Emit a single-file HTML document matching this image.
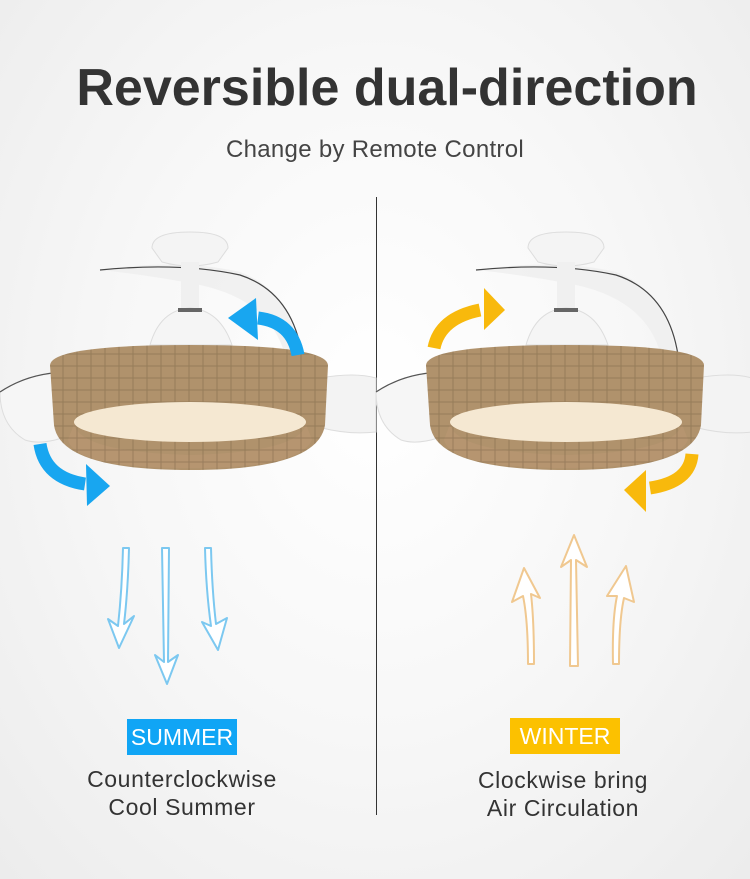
<!DOCTYPE html>
<html><head><meta charset="utf-8"><style>
html,body{margin:0;padding:0}
body{width:750px;height:879px;overflow:hidden;position:relative;font-family:"Liberation Sans",sans-serif;background:radial-gradient(ellipse at 50% 45%,#ffffff 0%,#f7f7f7 50%,#ececec 100%)}
.t{position:absolute;left:0;width:750px;text-align:center}
</style></head><body>
<div class="t" style="top:58px;left:12px;font-size:52px;font-weight:bold;color:#333;letter-spacing:0px">Reversible dual-direction</div>
<div class="t" style="top:136px;font-size:24px;color:#444;letter-spacing:0.3px">Change by Remote Control</div>
<div style="position:absolute;left:376px;top:197px;width:1px;height:618px;background:#333"></div>
<svg width="750" height="879" style="position:absolute;left:0;top:0">
<defs>
<pattern id="weave" width="14" height="12" patternUnits="userSpaceOnUse"><path d="M0,6H14M7,0V12" stroke="#6e5a40" stroke-width="1"/></pattern>
<g id="fan">
<path d="M0,392 Q30,372 70,372 L62,438 Q40,445 25,440 Q0,425 0,392Z" fill="#f6f6f6" stroke="#ddd"/>
<path d="M0,392 Q30,372 70,372" fill="none" stroke="#555" stroke-width="1.2"/>
<path d="M320,378 Q355,372 376,378 L376,432 Q350,435 322,428Z" fill="#f3f3f3" stroke="#ddd"/>
<path d="M100,270 Q180,258 240,272 Q290,290 300,355 L285,355 Q270,300 200,285 Q150,275 100,270Z" fill="#eeeeee" opacity="0.85"/>
<path d="M100,270 Q180,262 240,275 Q292,292 302,355" fill="none" stroke="#444" stroke-width="1.2"/>
<path d="M152,248 Q152,232 190,232 Q228,232 228,248 L218,262 Q190,270 162,262Z" fill="#f4f4f4" stroke="#ddd"/>
<rect x="181" y="262" width="18" height="50" fill="#f0f0f0"/>
<path d="M150,345 Q160,310 190,308 Q220,310 232,345Z" fill="#f5f5f5" stroke="#ddd"/>
<rect x="178" y="308" width="24" height="4" fill="#666"/>
<path d="M50,365 Q52,345 190,345 Q326,345 328,365 L325,425 Q318,470 190,470 Q60,470 54,425Z" fill="#b0926c"/>
<path d="M50,365 Q52,345 190,345 Q326,345 328,365 L325,425 Q318,470 190,470 Q60,470 54,425Z" fill="url(#weave)" opacity="0.4"/>
<ellipse cx="190" cy="422" rx="116" ry="20" fill="#f5e8d2"/>
<path d="M74,424 Q80,452 190,455 Q300,452 306,424 L312,440 Q300,468 190,468 Q75,468 68,440Z" fill="#b69570"/>
<path d="M74,424 Q80,452 190,455 Q300,452 306,424 L312,440 Q300,468 190,468 Q75,468 68,440Z" fill="url(#weave)" opacity="0.4"/>
</g>
</defs>
<use href="#fan"/>
<use href="#fan" x="376"/>
<path d="M298,355 Q292,322 258,318" fill="none" stroke="#18a6f0" stroke-width="13"/>
<polygon points="228,318 256,298 258,340" fill="#18a6f0"/>
<path d="M40,444 Q45,478 85,484" fill="none" stroke="#18a6f0" stroke-width="13"/>
<polygon points="110,486 86,464 87,506" fill="#18a6f0"/>
<path d="M434,348 Q440,318 480,310" fill="none" stroke="#f8b90c" stroke-width="13"/>
<polygon points="505,310 484,288 484,330" fill="#f8b90c"/>
<path d="M692,454 Q690,482 650,488" fill="none" stroke="#f8b90c" stroke-width="13"/>
<polygon points="624,490 646,470 646,512" fill="#f8b90c"/>
<g fill="#fff" stroke="#7cc8f0" stroke-width="2" stroke-linejoin="round">
<path d="M123,548 L129,548 Q128,590 124,624 L134,616 L119,648 L108,619 L118,626 Q122,590 123,548Z"/>
<path d="M162,548 L169,548 L168,662 L178,655 L167,684 L155,655 L164,662Z"/>
<path d="M205,548 L211,548 Q212,590 216,624 L227,618 L218,650 L202,622 L211,626 Q206,590 205,548Z"/>
</g>
<g fill="#fff" stroke="#f0c890" stroke-width="2" stroke-linejoin="round">
<path d="M528,664 L534,664 Q534,620 531,594 L540,598 L524,568 L512,602 L523,596 Q528,620 528,664Z"/>
<path d="M570,666 L578,666 L576,560 L587,567 L574,535 L561,567 L571,560Z"/>
<path d="M613,664 L619,664 Q619,620 624,598 L634,602 L626,566 L607,596 L617,596 Q612,620 613,664Z"/>
</g>
</svg>
<div style="position:absolute;left:127px;top:719px;width:110px;height:36px;background:#10a5f5;color:#fff;font-size:23px;line-height:36px;text-align:center">SUMMER</div>
<div style="position:absolute;left:510px;top:718px;width:110px;height:36px;background:#fcc100;color:#fff;font-size:23px;line-height:36px;text-align:center">WINTER</div>
<div style="position:absolute;left:32px;width:300px;top:765px;text-align:center;font-size:23px;line-height:28px;color:#333;letter-spacing:0.6px">Counterclockwise<br>Cool Summer</div>
<div style="position:absolute;left:413px;width:300px;top:766px;text-align:center;font-size:23px;line-height:28px;color:#333;letter-spacing:0.6px">Clockwise bring<br>Air Circulation</div>
</body></html>
